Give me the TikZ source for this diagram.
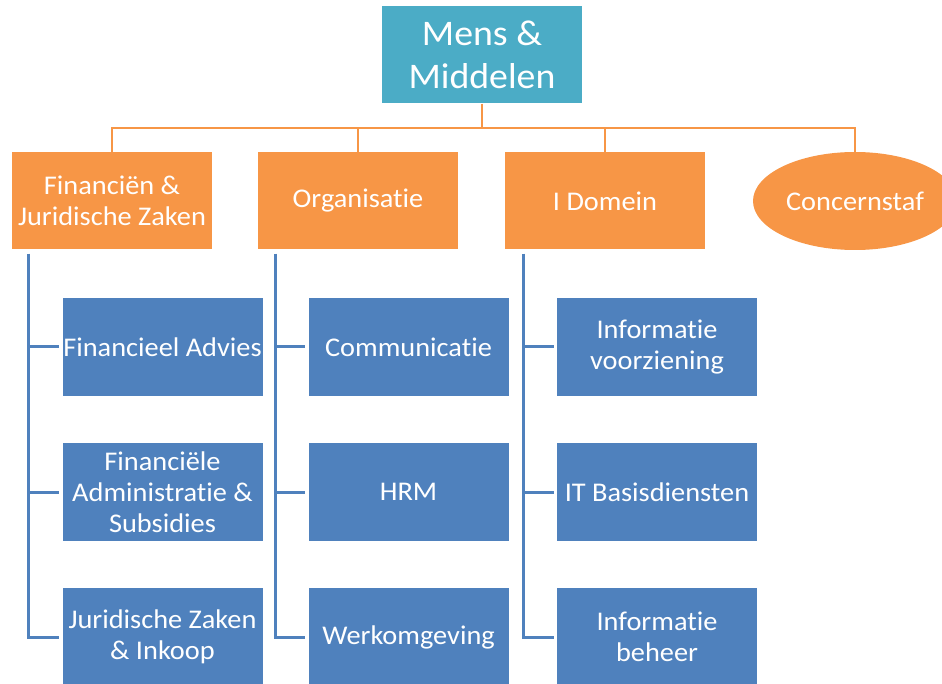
\documentclass[tikz,border=0pt]{standalone}
\usepackage{fontspec}
\setmainfont[Ligatures={NoCommon}, FakeStretch=1.05]{Carlito}
\usetikzlibrary{shapes.geometric}
\definecolor{mmteal}{HTML}{4BACC6}
\definecolor{mmorange}{HTML}{F79646}
\definecolor{mmblue}{HTML}{4F81BD}
\tikzset{
  box/.style={rectangle, minimum width=200pt, minimum height=97pt, inner sep=0pt, align=center, text=white, font=\fontsize{27}{31}\selectfont},
  topbox/.style={box, fill=mmteal, font=\fontsize{36}{43}\selectfont},
  obox/.style={box, fill=mmorange},
  oell/.style={ellipse, fill=mmorange, minimum width=204pt, minimum height=98pt, inner sep=0pt, text=white, font=\fontsize{27}{31}\selectfont},
  bbox/.style={box, fill=mmblue, minimum height=98pt},
  oline/.style={draw=mmorange, line width=2.8pt},
  bline/.style={draw=mmblue, line width=3pt},
}
\begin{document}
\begin{tikzpicture}[x=1pt,y=-1pt]
\useasboundingbox (0,0) rectangle (942,684);
\fill[white] (0,0) rectangle (942,684);
\node[topbox] (top) at (482,55) {Mens \&\\Middelen};
\node[obox] (f1) at (112,201) {Financiën \&\\Juridische Zaken};
\node[obox] (f2) at (358,201) {Organisatie};
\node[obox] (f3) at (605,201) {I Domein};
\node[oell] (cs) at (855,201) {Concernstaf};
% blue boxes
\node[bbox] (b11) at (162.5,347) {Financieel Advies};
\node[bbox] (b12) at (162.5,492) {Financiële\\Administratie \&\\Subsidies};
\node[bbox] (b13) at (162.5,637) {Juridische Zaken\\\& Inkoop};
\node[bbox] (b21) at (408.5,347) {Communicatie};
\node[bbox] (b22) at (408.5,492) {HRM};
\node[bbox] (b23) at (408.5,637) {Werkomgeving};
\node[bbox] (b31) at (657,347) {Informatie\\voorziening};
\node[bbox] (b32) at (657,492) {IT Basisdiensten};
\node[bbox] (b33) at (657,637) {Informatie\\beheer};
% orange connectors
\coordinate (bus) at (482,128);
\draw[oline] (top.south) -- (bus);
\draw[oline] (f1.north) |- (bus) -| (cs.north);
\draw[oline] (f2.north) -- (f2.north |- bus);
\draw[oline] (f3.north) -- (f3.north |- bus);
% blue connectors
\coordinate (v1) at ([xshift=17pt]f1.south west);
\coordinate (v2) at ([xshift=18pt]f2.south west);
\coordinate (v3) at ([xshift=19pt]f3.south west);
\draw[bline] ([yshift=-4pt]v1) |- ([xshift=-3pt]b13.west);
\draw[bline] (v1 |- b11.west) -- ([xshift=-3pt]b11.west);
\draw[bline] (v1 |- b12.west) -- ([xshift=-3pt]b12.west);
\draw[bline] ([yshift=-4pt]v2) |- ([xshift=-3pt]b23.west);
\draw[bline] (v2 |- b21.west) -- ([xshift=-3pt]b21.west);
\draw[bline] (v2 |- b22.west) -- ([xshift=-3pt]b22.west);
\draw[bline] ([yshift=-4pt]v3) |- ([xshift=-3pt]b33.west);
\draw[bline] (v3 |- b31.west) -- ([xshift=-3pt]b31.west);
\draw[bline] (v3 |- b32.west) -- ([xshift=-3pt]b32.west);
\end{tikzpicture}
\end{document}
